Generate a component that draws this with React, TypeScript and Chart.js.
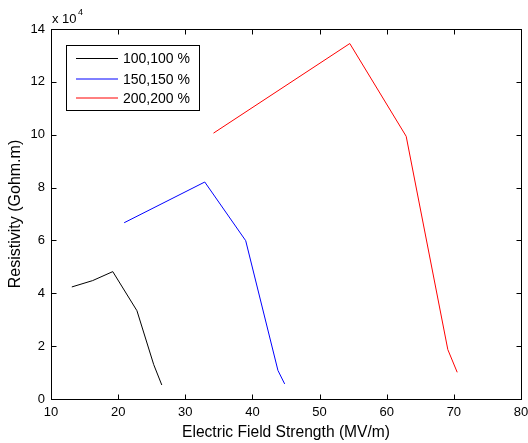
import React, { useEffect, useRef } from 'react';
import { Chart, registerables } from 'chart.js';

Chart.register(...registerables);

const seriesLabels = ['100,100 %', '150,150 %', '200,200 %'];
const seriesColors = ['#000000', '#0000ff', '#ff0000'];

const field100 = [13.1, 16.2, 19.2, 22.8, 25.3, 26.5];
const resist100 = [42400, 44800, 48200, 33400, 13000, 5300];

const field150 = [20.9, 32.9, 39.0, 43.8, 44.8];
const resist150 = [66700, 82100, 59900, 10800, 5700];

const field200 = [34.2, 54.5, 62.9, 69.1, 70.5];
const resist200 = [100600, 134500, 99400, 18700, 10100];

const xTicks = [10, 20, 30, 40, 50, 60, 70, 80];
const yTicks = [0, 20000, 40000, 60000, 80000, 100000, 120000, 140000];

const xTitle = 'Electric Field Strength (MV/m)';
const yTitle = 'Resistivity (Gohm.m)';
const FONT = '"Liberation Sans", Arial, Helvetica, sans-serif';

const zip = (xs: number[], ys: number[]) => xs.map((x, i) => ({ x, y: ys[i] }));

const matlabPlugin = {
  id: 'matlabFrame',
  afterDraw(chart: any) {
    const { ctx, chartArea: a, scales } = chart;
    const xs = scales.x;
    const ys = scales.y;
    ctx.save();
    ctx.strokeStyle = '#000';
    ctx.lineWidth = 1;
    const L = Math.round(a.left) + 0.5;
    const R = Math.round(a.right) + 0.5;
    const T = Math.round(a.top) + 0.5;
    const B = Math.round(a.bottom) + 0.5;
    ctx.strokeRect(L, T, R - L, B - T);
    const tl = 5;
    ctx.beginPath();
    xTicks.forEach((v) => {
      const px = Math.round(xs.getPixelForValue(v)) + 0.5;
      ctx.moveTo(px, B);
      ctx.lineTo(px, B - tl);
      ctx.moveTo(px, T);
      ctx.lineTo(px, T + tl);
    });
    yTicks.forEach((v) => {
      const py = Math.round(ys.getPixelForValue(v)) + 0.5;
      ctx.moveTo(L, py);
      ctx.lineTo(L + tl, py);
      ctx.moveTo(R, py);
      ctx.lineTo(R - tl, py);
    });
    ctx.stroke();

    // exponent label
    ctx.fillStyle = '#000';
    ctx.textBaseline = 'alphabetic';
    ctx.textAlign = 'left';
    ctx.font = `13px ${FONT}`;
    ctx.fillText('x 10', L + 0.5, 23);
    const w = ctx.measureText('x 10').width;
    ctx.font = `9px ${FONT}`;
    ctx.fillText('4', L + w + 2, 15);

    // legend
    const lx = 66.5, ly = 45.5, lw = 133, lh = 65;
    ctx.fillStyle = '#fff';
    ctx.fillRect(lx, ly, lw, lh);
    ctx.strokeStyle = '#000';
    ctx.strokeRect(lx, ly, lw, lh);
    const rows = [58.5, 79, 98];
    ctx.font = `14px ${FONT}`;
    ctx.textBaseline = 'middle';
    seriesLabels.forEach((lab, i) => {
      ctx.strokeStyle = seriesColors[i];
      ctx.beginPath();
      ctx.moveTo(76, rows[i]);
      ctx.lineTo(118, rows[i]);
      ctx.stroke();
      ctx.fillStyle = '#000';
      ctx.fillText(lab, 123, rows[i] + 1);
    });
    ctx.restore();
  },
};

export default function App() {
  const ref = useRef<HTMLCanvasElement>(null);
  useEffect(() => {
    if (!ref.current) return;
    Chart.defaults.font.family = FONT;
    Chart.defaults.color = '#000';
    const chart = new Chart(ref.current, {
      type: 'scatter',
      data: {
        datasets: [
          { label: seriesLabels[0], data: zip(field100, resist100), borderColor: seriesColors[0] },
          { label: seriesLabels[1], data: zip(field150, resist150), borderColor: seriesColors[1] },
          { label: seriesLabels[2], data: zip(field200, resist200), borderColor: seriesColors[2] },
        ].map((d) => ({
          ...d,
          showLine: true,
          borderWidth: 1,
          pointRadius: 0,
          pointHoverRadius: 0,
          backgroundColor: d.borderColor,
          tension: 0,
        })),
      },
      options: {
        responsive: false,
        animation: false,
        events: [],
        layout: { padding: { top: 29, right: 7, left: 0, bottom: 0 } },
        plugins: { legend: { display: false }, tooltip: { enabled: false } },
        scales: {
          x: {
            type: 'linear',
            min: 10,
            max: 80,
            afterBuildTicks: (s: any) => {
              s.ticks = xTicks.map((v) => ({ value: v }));
            },
            afterFit: (s: any) => {
              s.height = 44;
              s.paddingLeft = 0;
              s.paddingRight = 0;
              s.paddingTop = 0;
              s.paddingBottom = 0;
            },
            grid: { display: false, drawTicks: false },
            border: { display: false },
            ticks: { padding: 6, font: { size: 13 }, color: '#000', maxRotation: 0, autoSkip: false },
            title: { display: true, text: xTitle, font: { size: 15.6 }, color: '#000', padding: { top: 0, bottom: 1 } },
          },
          y: {
            type: 'linear',
            min: 0,
            max: 140000,
            afterBuildTicks: (s: any) => {
              s.ticks = yTicks.map((v) => ({ value: v }));
            },
            afterFit: (s: any) => {
              s.width = 51;
              s.paddingLeft = 0;
              s.paddingRight = 0;
              s.paddingTop = 0;
              s.paddingBottom = 0;
            },
            grid: { display: false, drawTicks: false },
            border: { display: false },
            ticks: {
              padding: 6,
              font: { size: 13 },
              color: '#000',
              autoSkip: false,
              callback: (v: any) => String(Number(v) / 10000),
            },
            title: { display: true, text: yTitle, font: { size: 16 }, color: '#000', padding: { top: 6, bottom: 0 } },
          },
        },
      },
      plugins: [matlabPlugin],
    });
    return () => chart.destroy();
  }, []);
  return (
    <div style={{ position: 'fixed', left: 0, top: 0, width: 528, height: 443, background: '#fff' }}>
      <canvas ref={ref} width={528} height={443} style={{ width: 528, height: 443 }} />
    </div>
  );
}
